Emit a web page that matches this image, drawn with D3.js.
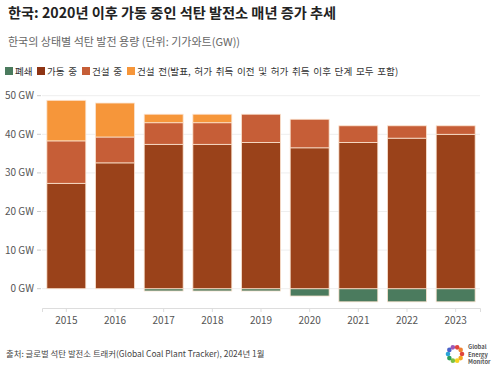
<!DOCTYPE html>
<html>
<head>
<meta charset="utf-8">
<script src="https://cdn.jsdelivr.net/npm/d3@7"></script>
<style>
  body { margin: 0; background: #fff; }
  text { font-family: "Noto Sans CJK KR", "Noto Sans", sans-serif; }
</style>
</head>
<body>
<svg id="canvas" width="500" height="369"></svg>
<script>
let years = ["2015", "2016", "2017", "2018", "2019", "2020", "2021", "2022", "2023"]
let retired = [0, 0, -0.6, -0.6, -0.6, -1.9, -3.4, -3.4, -3.4]
let operating = [27.3, 32.6, 37.4, 37.4, 37.9, 36.5, 37.9, 39.0, 40.0]
let construction = [11.0, 6.7, 5.6, 5.6, 7.3, 7.4, 4.3, 3.2, 2.2]
let preConstruction = [10.5, 8.8, 2.2, 2.2, 0, 0, 0, 0, 0]
let yTicks = [0, 10, 20, 30, 40, 50]

let legendItems = [
    {label: "폐쇄", color: "#4b7b5e"},
    {label: "가동 중", color: "#8e3414"},
    {label: "건설 중", color: "#c65e37"},
    {label: "건설 전(발표, 허가 취득 이전 및 허가 취득 이후 단계 모두 포함)", color: "#f6963a"}
]

let colors = {
    retired: "#4b7b5e",
    operating: "#9a421a",
    construction: "#c65e37",
    pre: "#f6963a"
}

let svg = d3.select("#canvas")

let x = d3.scaleBand()
    .domain(years)
    .range([42, 480])
    .paddingInner(0.2)
    .paddingOuter(0.1)

let y = d3.scaleLinear()
    .domain([0, 50])
    .range([288.7, 95.7])

// titles
svg.append("text")
    .attr("x", 8).attr("y", 18)
    .attr("font-size", 14.2).attr("font-weight", "bold").attr("fill", "#222")
    .text("한국: 2020년 이후 가동 중인 석탄 발전소 매년 증가 추세")

svg.append("text")
    .attr("x", 8).attr("y", 46)
    .attr("font-size", 11).attr("fill", "#666")
    .text("한국의 상태별 석탄 발전 용량 (단위: 기가와트(GW))")

// legend
let legendX = [5, 37, 82, 127]
legendItems.forEach((item, i) => {
    svg.append("rect")
        .attr("x", legendX[i]).attr("y", 67)
        .attr("width", 8).attr("height", 8)
        .attr("fill", item.color)
    svg.append("text")
        .attr("x", legendX[i] + 10).attr("y", 75)
        .attr("font-size", 9.6).attr("fill", "#333")
        .attr("word-spacing", 1.5)
        .text(item.label)
})

// gridlines + y axis labels
yTicks.forEach((v) => {
    svg.append("line")
        .attr("x1", 42).attr("x2", 480)
        .attr("y1", y(v)).attr("y2", y(v))
        .attr("stroke", "#eeeeee").attr("stroke-width", 1)
    svg.append("line")
        .attr("x1", 37).attr("x2", 41)
        .attr("y1", y(v)).attr("y2", y(v))
        .attr("stroke", "#ccc")
    svg.append("text")
        .attr("x", 34).attr("y", y(v) + 3.5)
        .attr("text-anchor", "end")
        .attr("font-size", 10).attr("fill", "#555")
        .text(v + " GW")
})

// stacked bars
years.forEach((yr, i) => {
    let segs = [
        {y0: retired[i], y1: 0, color: colors.retired},
        {y0: 0, y1: operating[i], color: colors.operating},
        {y0: operating[i], y1: operating[i] + construction[i], color: colors.construction},
        {y0: operating[i] + construction[i], y1: operating[i] + construction[i] + preConstruction[i], color: colors.pre}
    ]
    svg.selectAll(null)
        .data(segs.filter((s) => s.y1 - s.y0 > 0))
        .enter()
        .append("rect")
        .attr("x", x(yr))
        .attr("width", x.bandwidth())
        .attr("y", (s) => y(s.y1))
        .attr("height", (s) => y(s.y0) - y(s.y1))
        .attr("fill", (s) => s.color)
        .attr("stroke", "#fbe3cf")
        .attr("stroke-width", 0.8)
})

// x axis
let xAxis = svg.append("g")
    .attr("transform", "translate(0,308)")
    .call(d3.axisBottom(x).tickSize(4).tickPadding(5))
xAxis.select(".domain").attr("stroke", "#ddd")
xAxis.selectAll(".tick line").attr("stroke", "#ddd")
xAxis.selectAll(".tick text")
    .attr("font-size", 10).attr("fill", "#555")
    .attr("font-family", "\"Noto Sans CJK KR\", \"Noto Sans\", sans-serif")

// footer
svg.append("text")
    .attr("x", 6).attr("y", 357)
    .attr("font-size", 8.4).attr("fill", "#444")
    .text("출처: 글로벌 석탄 발전소 트래커(Global Coal Plant Tracker), 2024년 1월")

// logo
let logo = svg.append("g").attr("transform", "translate(455,354)")
let dotColors = ["#e0443c", "#f5a623", "#f8d21c", "#7bc043", "#2e9e5b", "#2aa4d8", "#4a62c9", "#9b59b6", "#e0443c", "#f08030"]
dotColors.forEach((c, i) => {
    let a = i / dotColors.length * Math.PI * 2
    logo.append("circle")
        .attr("cx", Math.cos(a) * 7).attr("cy", Math.sin(a) * 7)
        .attr("r", 2.3).attr("fill", c)
})
;["Global", "Energy", "Monitor"].forEach((w, i) => {
    logo.append("text")
        .attr("x", 13).attr("y", -5 + i * 7.5)
        .attr("font-size", 5.8).attr("font-weight", "bold").attr("fill", "#555")
        .attr("font-family", "\"Noto Sans\", sans-serif")
        .text(w)
})
</script>
</body>
</html>
